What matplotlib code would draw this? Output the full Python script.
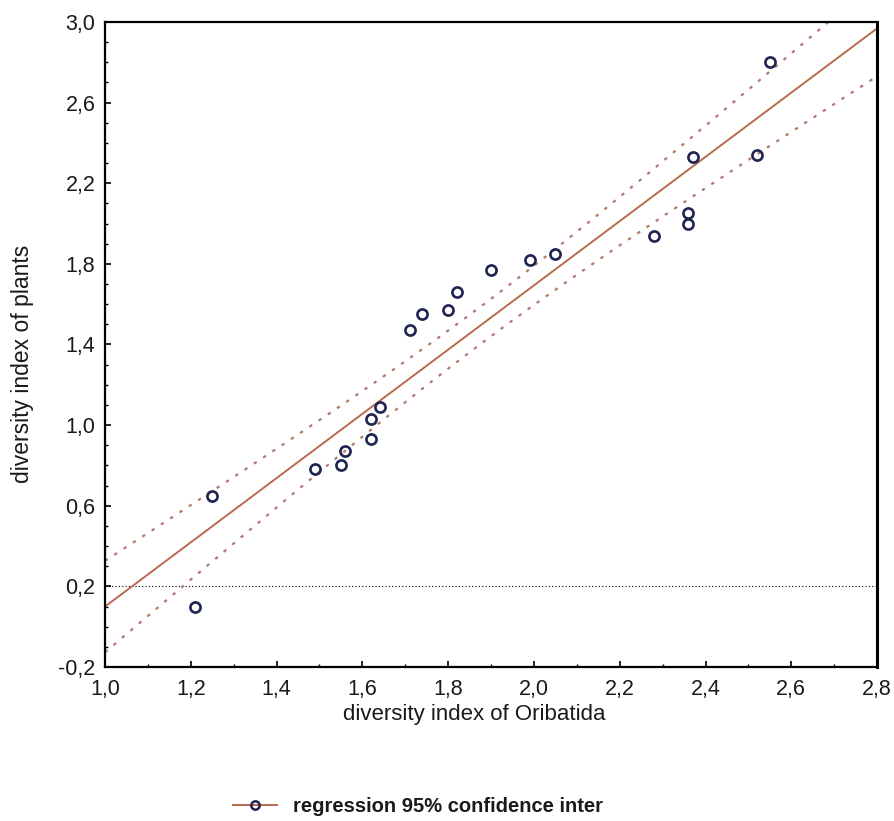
"""
Regression of plant diversity on Oribatida diversity, with 95% confidence band.
"""

import numpy as np
import matplotlib.pyplot as plt
from matplotlib.ticker import MultipleLocator, FuncFormatter

# diversity index of Oribatida (x) and of plants (y)
oribatida = [1.21, 1.25, 1.49, 1.55, 1.56, 1.62, 1.62, 1.64, 1.71, 1.74, 1.80,
             1.82, 1.90, 1.99, 2.05, 2.28, 2.36, 2.36, 2.37, 2.52, 2.55]
plants = [0.10, 0.65, 0.78, 0.80, 0.87, 0.93, 1.03, 1.09, 1.47, 1.55, 1.57,
          1.66, 1.77, 1.82, 1.85, 1.94, 2.00, 2.05, 2.33, 2.34, 2.80]

x_ticks = [1.0, 1.2, 1.4, 1.6, 1.8, 2.0, 2.2, 2.4, 2.6, 2.8]
y_ticks = [-0.2, 0.2, 0.6, 1.0, 1.4, 1.8, 2.2, 2.6, 3.0]
ref_level = 0.2

plt.rcParams['font.family'] = ['Liberation Sans', 'DejaVu Sans']

x = np.array(oribatida)
y = np.array(plants)
n = len(x)

# least-squares fit and 95% confidence band for the mean
slope, intercept = np.polyfit(x, y, 1)
resid = y - (slope * x + intercept)
s = np.sqrt(np.sum(resid ** 2) / (n - 2))
t_crit = 2.093  # t(0.975, df=19)
xs = np.linspace(1.0, 2.8, 200)
fit = slope * xs + intercept
se = s * np.sqrt(1 / n + (xs - x.mean()) ** 2 / np.sum((x - x.mean()) ** 2))

fig = plt.figure(figsize=(8.95, 8.21), dpi=100)
ax = fig.add_axes([0.1173, 0.1876, 0.8627, 0.7856])

line_col = '#b86a4e'
band_col = '#b07a6a'
text_col = '#1a1a1a'

ax.axhline(ref_level, color='black', linestyle=(0, (1, 2)), linewidth=0.8)
ax.plot(xs, fit + t_crit * se, color=band_col, linestyle=(0, (1.5, 3.5)),
        linewidth=1.6)
ax.plot(xs, fit - t_crit * se, color=band_col, linestyle=(0, (1.5, 3.5)),
        linewidth=1.6)
ax.plot(xs, fit, color=line_col, linewidth=1.4)
ax.plot(x, y, linestyle='none', marker='o', markersize=7.3,
        markerfacecolor='none', markeredgecolor='#1f2450',
        markeredgewidth=1.9)

ax.set_xlim(1.0, 2.8)
ax.set_ylim(-0.2, 3.0)
ax.set_xticks(x_ticks)
ax.set_yticks(y_ticks)
ax.xaxis.set_minor_locator(MultipleLocator(0.1))
ax.yaxis.set_minor_locator(MultipleLocator(0.1))
comma = FuncFormatter(lambda v, pos: f'{v:.1f}'.replace('.', ','))
ax.xaxis.set_major_formatter(comma)
ax.yaxis.set_major_formatter(comma)
ax.tick_params(which='major', direction='in', length=4, width=1.2,
               labelsize=15.5, labelcolor=text_col)
ax.tick_params(axis='x', which='major', pad=9)
ax.tick_params(axis='y', which='major', pad=7)
ax.tick_params(which='minor', direction='in', length=2.5, width=1.0)
for side in ax.spines.values():
    side.set_linewidth(1.6)
ax.spines['right'].set_linewidth(2.2)

ax.set_xlabel('diversity index of Oribatida', fontsize=16, color=text_col)
ax.set_ylabel('diversity index of plants', fontsize=16.5, color=text_col)
ax.xaxis.set_label_coords(0.478, -0.057)
ax.yaxis.set_label_coords(-0.092, 0.47)

# legend below the plot, as in the original export
handle, = ax.plot([], [], color=line_col, linewidth=1.4, marker='o',
                  markersize=6, markerfacecolor='none',
                  markeredgecolor='#1f2450', markeredgewidth=1.8)
fig.legend([handle], ['regression 95% confidence inter'],
           loc='center left', bbox_to_anchor=(0.24, 0.018),
           frameon=False, handlelength=2.2, handletextpad=0.8,
           prop={'size': 14.5, 'weight': 'bold'}, labelcolor=text_col)

fig.savefig('out.png', dpi=100)
